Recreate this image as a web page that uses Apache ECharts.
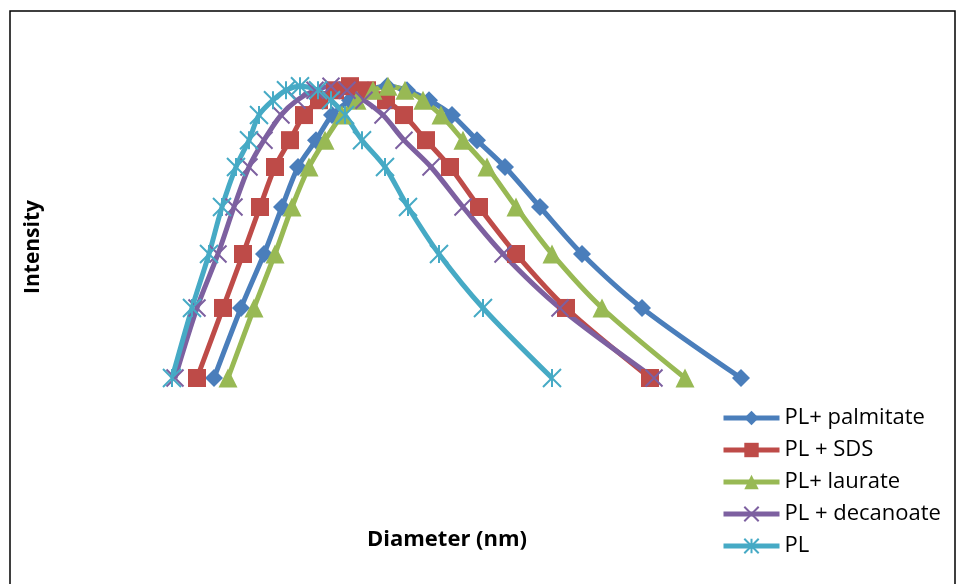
<!DOCTYPE html>
<html>
<head>
<meta charset="utf-8">
<script src="https://cdn.jsdelivr.net/npm/echarts@6/dist/echarts.min.js"></script>
<style>
html,body{margin:0;padding:0;background:#fff;}
#chart{width:958px;height:584px;}
</style>
</head>
<body>
<div id="chart"></div>
<script>
// Series names
const seriesNames = ['PL+ palmitate', 'PL + SDS', 'PL+ laurate', 'PL + decanoate', 'PL'];

// Diameter values (arbitrary units; axis unlabeled)
const diamPalmitate = [64, 91, 114, 132, 148, 166, 182, 200, 218, 237, 257, 279, 302, 327, 355, 390, 432, 492, 591];
const diamSDS       = [47, 73, 93, 110, 125, 140, 154, 169, 185, 200, 217, 236, 254, 276, 300, 329, 366, 416, 500];
const diamLaurate   = [78, 104, 125, 142, 159, 175, 192, 207, 223, 238, 255, 273, 291, 313, 337, 366, 402, 452, 535];
const diamDecanoate = [25, 47, 68, 84, 99, 114, 131, 147, 165, 181, 197, 214, 233, 254, 281, 313, 353, 410, 504];
const diamPL        = [22, 42, 59, 72, 86, 99, 109, 123, 136, 150, 168, 181, 195, 212, 235, 258, 289, 333, 402];

// Intensity values (relative %)
const intPalmitate = [0, 24, 42.5, 58.6, 72.3, 81.5, 90.1, 95.2, 98.6, 100, 98.6, 95.2, 90.1, 81.5, 72.3, 58.6, 42.5, 24, 0];
const intSDS       = [0, 24, 42.5, 58.6, 72.3, 81.5, 90.1, 95.2, 98.6, 100, 98.6, 95.2, 90.1, 81.5, 72.3, 58.6, 42.5, 24, 0];
const intLaurate   = [0, 24, 42.5, 58.6, 72.3, 81.5, 90.1, 95.2, 98.6, 100, 98.6, 95.2, 90.1, 81.5, 72.3, 58.6, 42.5, 24, 0];
const intDecanoate = [0, 24, 42.5, 58.6, 72.3, 81.5, 90.1, 95.2, 98.6, 100, 98.6, 95.2, 90.1, 81.5, 72.3, 58.6, 42.5, 24, 0];
const intPL        = [0, 24, 42.5, 58.6, 72.3, 81.5, 90.1, 95.2, 98.6, 100, 98.6, 95.2, 90.1, 81.5, 72.3, 58.6, 42.5, 24, 0];

const colors = ['#4A7EBB', '#BE4B48', '#98B954', '#7D60A0', '#46AAC5'];
const xPath = 'path://M0,0L10,10M10,0L0,10';
const starPath = 'path://M0,0L10,10M10,0L0,10M5,0L5,10';
const symbols = ['diamond', 'rect', 'triangle', xPath, starPath];
const symbolSizes = [18, 18, 19, 17, 18];

function zip(xs, ys) { return xs.map((x, i) => [x, ys[i]]); }
const dataSets = [
  zip(diamPalmitate, intPalmitate),
  zip(diamSDS, intSDS),
  zip(diamLaurate, intLaurate),
  zip(diamDecanoate, intDecanoate),
  zip(diamPL, intPL)
];

const chart = echarts.init(document.getElementById('chart'), null, {renderer: 'canvas'});

const series = seriesNames.map((name, i) => {
  const isStroke = i >= 3;
  return {
    name: name,
    type: 'line',
    data: dataSets[i],
    smooth: 0.3,
    clip: false,
    symbol: symbols[i],
    symbolSize: symbolSizes[i],
    showAllSymbol: true,
    lineStyle: {color: colors[i], width: 5},
    itemStyle: isStroke
      ? {color: colors[i], borderColor: colors[i], borderWidth: 2}
      : {color: colors[i], borderWidth: 0},
    emphasis: {disabled: true}
  };
});

chart.setOption({
  animation: false,
  backgroundColor: '#ffffff',
  color: colors,
  grid: {left: 150, right: 208, top: 57, bottom: 206},
  xAxis: {
    type: 'value', min: 0, max: 600,
    axisLine: {show: false}, axisTick: {show: false},
    axisLabel: {show: false}, splitLine: {show: false}
  },
  yAxis: {
    type: 'value', min: 0, max: 110,
    axisLine: {show: false}, axisTick: {show: false},
    axisLabel: {show: false}, splitLine: {show: false}
  },
  legend: {
    orient: 'vertical',
    left: 716,
    top: 402,
    itemWidth: 56,
    itemHeight: 18,
    itemGap: 10,
    data: seriesNames,
    lineStyle: {width: 5},
    textStyle: {fontFamily: 'Open Sans', fontSize: 22, color: '#000', lineHeight: 22}
  },
  graphic: [
    {
      type: 'rect',
      shape: {x: 10, y: 11, width: 945, height: 620},
      style: {fill: 'none', stroke: '#000', lineWidth: 1.5},
      silent: true
    },
    {
      type: 'text',
      x: 33, y: 247,
      rotation: Math.PI / 2,
      style: {text: 'Intensity', font: 'bold 21px "Open Sans"', fill: '#000', align: 'center', verticalAlign: 'middle'}
    },
    {
      type: 'text',
      x: 447, y: 540,
      style: {text: 'Diameter (nm)', font: 'bold 22px "Open Sans"', fill: '#000', align: 'center', verticalAlign: 'middle'}
    }
  ],
  series: series
});
</script>
</body>
</html>
